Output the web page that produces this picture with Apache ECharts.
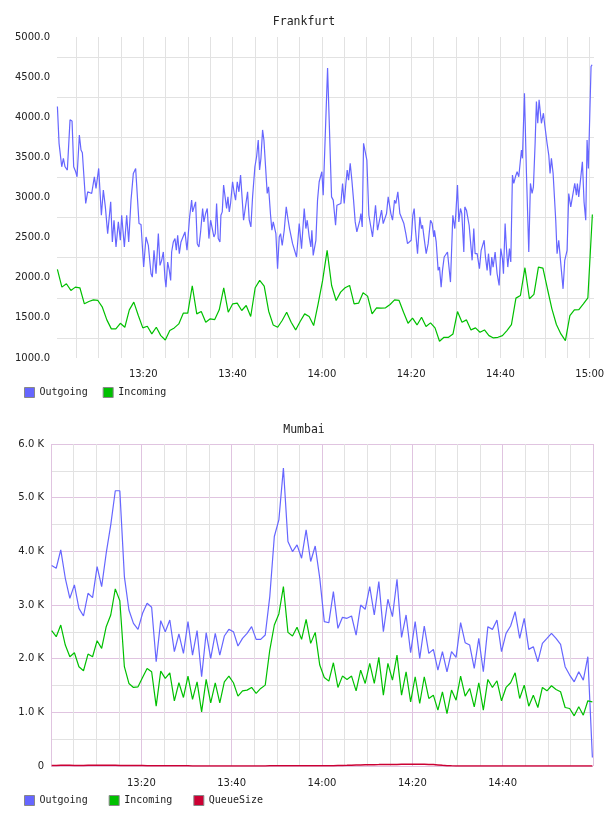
<!DOCTYPE html>
<html><head><meta charset="utf-8">
<script src="https://cdn.jsdelivr.net/npm/echarts@6/dist/echarts.min.js"></script>
<style>html,body{margin:0;padding:0;background:#fff}#c{width:608px;height:816px}</style>
</head><body><div id="c"></div>
<script>
// ---- x axis ticks (minutes after 13:00) ----
const frankTickMinutes = [5,10,15,20,25,30,35,40,45,50,55,60,65,70,75,80,85,90,95,100,105,110,115,120];
const frankLabelMinutes = [20,40,60,80,100,120];
const mumbaiLabelMinutes = [20,40,60,80,100];
const frankYTicks = [1000,1500,2000,2500,3000,3500,4000,4500,5000];

// ---- Frankfurt Outgoing: [minute after 13:00, value] ----
const frankfurtOutgoing = [
[0.76,4133],[1.13,3675],[1.73,3383],[2.1,3488],[2.47,3383],[2.99,3342],[3.22,3321],[3.59,3967],[4.04,3954],[4.41,3383],
[4.86,3321],[5.16,3258],[5.68,3779],[6.05,3592],[6.35,3558],[6.73,3558],[7.1,2925],[7.55,3071],[7.99,3050],[8.44,3050],
[9.04,3258],[9.41,3113],[9.71,3133],[10.01,3362],[10.61,2779],[11.05,3092],[11.5,2883],[12.02,2550],[12.7,2946],[13.07,2446],
[13.44,2717],[13.89,2383],[14.41,2696],[14.86,2467],[15.16,2779],[15.76,2383],[16.28,2779],[16.73,2446],[17.25,2967],[17.77,3300],
[18.29,3362],[18.52,3342],[19.04,2675],[19.49,2663],[20.08,2133],[20.61,2508],[21.13,2404],[21.35,2383],[21.73,2050],[22.02,2008],
[22.4,2342],[22.85,2050],[23.37,2550],[23.74,2154],[24.11,2217],[24.49,2321],[24.86,1988],[25.08,1883],[25.46,2196],[25.83,2092],
[26.13,1967],[26.35,2321],[26.73,2446],[27.1,2488],[27.4,2342],[27.7,2529],[28.07,2300],[28.44,2446],[28.82,2425],[29.34,2571],
[29.79,2342],[30.08,2321],[30.38,2758],[30.83,2967],
[31.05,2821],[31.42,2821],[31.72,2946],[32.09,2425],[32.46,2383],[32.84,2571],[33.06,2571],[33.29,2863],[33.58,2696],[33.96,2800],
[34.33,2863],[34.7,2488],[35.08,2717],[35.45,2717],[35.82,2508],[36.12,2550],[36.42,2925],[36.79,2488],[37.17,2446],[37.39,2779],
[37.69,2821],[37.99,3154],[38.36,3154],[38.66,2863],[38.96,3008],[39.26,2821],[39.55,2925],[40.0,3196],[40.38,3050],[40.67,2967],
[41.05,3196],[41.42,3071],[41.79,3279],[42.17,2967],[42.46,2717],[42.84,2717],[43.36,3071],[43.73,2717],[44.1,2633],[44.48,3008],
[45.0,3383],[45.38,3508],[45.75,3717],[46.05,3342],[46.35,3488],[46.72,3842],[47.02,3717],[47.39,3383],[47.76,3050],[48.06,3133],
[48.51,2779],[48.81,2592],[49.11,2696],[49.41,2696],[49.7,2550],[50.08,2113],[50.45,2508],[50.75,2550],[51.12,2404],[51.57,2592],
[52.02,2883],[52.39,2738],[52.76,2613],[53.06,2592],[53.44,2425],[53.81,2446],[54.33,2258],[54.93,2675],[55.45,2363],[56.05,2863],
[56.42,2613],[56.72,2717],[57.17,2508],[57.54,2383],[57.76,2592],[58.06,2279],[58.66,2467],[59.03,2967],[59.4,3196],[59.7,3196],
[60.0,3321],[60.3,3029],[60.6,3050],
[61.28,4612],[61.72,4612],[62.17,3008],[62.55,2967],[63.07,2654],[63.37,2904],[63.81,2904],[64.26,2925],[64.64,3175],[65.01,2925],
[65.38,3175],[65.68,3342],[65.98,3217],[66.35,3425],[66.72,3217],[67.1,2967],[67.47,2696],[67.84,2571],[68.14,2592],[68.52,2717],
[68.74,2800],[69.04,2633],[69.34,3675],[69.71,3696],[70.08,3467],[70.53,2779],[70.9,2779],[71.35,2508],[71.65,2508],[72.02,2904],
[72.47,2592],[72.84,2592],[73.37,2842],[73.74,2675],[74.11,2654],[74.49,2800],[74.86,3008],[75.08,3029],[75.46,2800],[75.83,2717],
[76.28,2967],[76.58,2925],[77.02,3071],[77.47,2800],[77.84,2779],[78.37,2675],[78.81,2550],[79.19,2425],[79.63,2446],[80.01,2467],
[80.38,2779],[80.68,2863],[80.98,2592],[81.43,2300],[81.95,2758],[82.32,2613],[82.55,2654],[82.92,2488],[83.37,2300],[83.81,2425],
[84.34,2717],[84.71,2675],[85.08,2508],[85.23,2592],[85.61,2446],[86.05,2092],[86.35,2133],[86.72,1883],[87.02,2092],[87.4,2258],
[87.77,2258],[88.14,2321],[88.44,2300],[88.81,1946],[89.04,1967],[89.34,2779],[89.78,2613],[90.01,2800],[90.38,3154],[90.68,2696],
[91.05,2863],
[91.35,2800],[91.8,2321],[92.02,2883],[92.39,2842],[92.99,2654],[93.66,2217],[94.03,2613],[94.33,2300],[94.78,2300],[95.3,2113],
[95.68,2342],[96.05,2321],[96.35,2467],[96.65,2258],[97.02,2092],[97.32,2300],[97.77,2029],[98.06,2258],[98.36,2133],[98.81,2321],
[99.26,2050],[99.71,1904],[100.08,2363],[100.45,2238],[100.68,2050],[101.05,2675],[101.35,2363],[101.65,2133],[102.02,2363],[102.32,2196],
[102.69,3279],[102.99,3175],[103.36,3258],[103.74,3321],[104.11,3258],[104.33,3279],[104.71,3592],[104.93,3488],[105.38,4300],[105.83,3300],
[106.35,2321],[106.72,3175],[107.09,3050],[107.39,3133],[107.77,3675],[108.06,4196],[108.36,3925],[108.66,4217],[109.18,3925],[109.63,4050],
[109.93,3904],[110.45,3675],[110.83,3529],[111.12,3300],[111.42,3488],[111.8,3300],[112.39,2717],[112.69,2300],[113.06,2467],[113.59,2133],
[114.03,1862],[114.41,2217],[114.93,2342],[115.3,3050],[115.75,2883],[116.05,2883],[116.65,3175],[117.02,3029],[117.24,3175],[117.54,3008],
[118.36,3446],[118.73,2946],[119.11,2717],[119.41,3717],[119.7,3362],[120.3,4633],[120.53,4654]
];

// ---- Frankfurt Incoming: one value per minute ----
const frankfurtInStart = 0.76;   // minutes after 13:00
const frankfurtInStep = 1.007;
const frankfurtIncoming = [
2104,1883,1925,1842,1883,1875,1675,1704,1725,1717,1633,1475,1363,1363,1433,1383,1600,1696,1529,1375,
1396,1300,1383,1279,1225,1342,1375,1425,1558,1558,1900,
1550,1579,1446,1488,1479,1600,1875,1571,1675,1683,1592,1654,1517,1875,1967,1896,1583,1412,1383,1467,
1571,1446,1350,1454,1550,1517,1404,1675,1967,2342,
1904,1717,1821,1875,1904,1675,1683,1813,1771,1550,1625,1621,1625,1667,1725,1717,1571,1433,1496,1412,
1508,1392,1438,1375,1208,1258,1258,1300,1579,1446,
1475,1350,1375,1321,1350,1279,1250,1258,1279,1342,1417,1746,1779,2125,1738,1792,2133,2121,1863,1613,
1417,1300,1217,1529,1600,1604,1675,1750,2788
];

// ---- Mumbai: one value per minute ----
const mumbaiStart = 0.15;
const mumbaiStep = 1.006;
const mumbaiOutgoing = [
3735,3685,4027,3498,3125,3374,2938,2795,3218,3138,
3716,3343,3965,4494,5129,5129,3530,2907,2658,2546,
2845,3032,2957,1943,2708,2503,2720,2130,2460,2098,
2690,2067,2522,1663,2484,2005,2472,2067,2422,2546,
2503,2235,2378,2472,2597,2360,2360,2441,3156,4276,
4587,5552,4183,3996,4121,3872,4400,3810,4100,3500,
2690,2670,3249,2565,2770,2752,2795,2440,3000,2920,
3343,2814,3436,2503,3107,2783,3480,2397,2814,2111,
2690,2005,2609,2098,2173,1787,2130,1756,2130,2024,
2671,2297,2254,1818,2378,1756,2596,2546,2721,2130,
2472,2609,2876,2378,2752,2173,2223,1943,2285,2378,
2472,2378,2266,1850,1694,1569,1756,1600,2036,157
];
const mumbaiIncoming = [
2521,2409,2627,2254,2036,2111,1850,1775,2086,2036,
2335,2192,2596,2814,3300,3080,1850,1538,1464,1476,
1650,1818,1756,1115,1769,1632,1737,1215,1551,1277,
1675,1240,1569,1009,1613,1177,1551,1177,1569,1675,
1551,1302,1401,1414,1464,1352,1445,1507,2161,2627,
2833,3343,2490,2422,2584,2360,2733,2285,2490,1881,
1650,1582,1924,1464,1675,1613,1675,1401,1787,1538,
1912,1538,2024,1320,1912,1600,2067,1320,1756,1196,
1663,1165,1663,1258,1320,1040,1383,978,1414,1227,
1675,1302,1445,1103,1551,1040,1613,1464,1588,1215,
1464,1551,1737,1258,1507,1115,1320,1090,1464,1401,
1495,1426,1383,1090,1071,935,1103,947,1215,1196
];
const mumbaiQueueSize = [
8,10,12,12,12,10,10,10,12,12,
12,14,14,12,12,10,10,10,10,8,
8,6,6,5,5,4,4,3,3,3,
3,2,2,2,2,2,2,2,2,2,
2,2,2,2,2,2,2,2,3,3,
3,3,3,3,3,3,3,4,4,4,
4,5,6,8,10,12,15,18,20,22,
24,25,26,28,28,30,30,32,32,34,
34,34,32,30,26,20,12,6,3,2,
2,2,2,2,2,2,2,2,2,2,
2,2,2,2,2,2,2,2,2,2,
2,2,2,2,2,2,2,2,2,2
];

function perMinute(start, step, vals) { return vals.map((v, i) => [start + i * step, v]); }
function hhmm(m) {
  const t = Math.round(m);
  const h = 13 + Math.floor(t / 60), mm = t % 60;
  return h + ':' + (mm < 10 ? '0' : '') + mm;
}

const C_OUT = '#6666ff', C_IN = '#00c000', C_Q = '#cc0033';
const GRAY = '#e2e2e2', PINK = '#e0c4e0';
const labelFont = { fontFamily: 'DejaVu Sans', fontSize: 10, color: '#222' };
const monoFont = 'DejaVu Sans Mono';

const chart = echarts.init(document.getElementById('c'), null, { renderer: 'canvas' });
chart.setOption({
  animation: false,
  backgroundColor: '#fff',
  title: [
    { text: 'Frankfurt', left: 'center', top: 11, textStyle: { fontFamily: monoFont, fontSize: 11.5, fontWeight: 'normal', color: '#222' } },
    { text: 'Mumbai', left: 'center', top: 419, textStyle: { fontFamily: monoFont, fontSize: 11.5, fontWeight: 'normal', color: '#222' } }
  ],
  legend: [
    { data: ['Outgoing', 'Incoming'], left: 24, top: 387, padding: 0, icon: 'rect', itemWidth: 10, itemHeight: 10, itemGap: 15,
      itemStyle: { borderColor: '#888', borderWidth: 1 },
      textStyle: { fontFamily: monoFont, fontSize: 10, color: '#222' } },
    { data: ['Outgoing', 'Incoming', 'QueueSize'], left: 24, top: 795, padding: 0, icon: 'rect', itemWidth: 10, itemHeight: 10, itemGap: 21,
      itemStyle: { borderColor: '#888', borderWidth: 1 },
      textStyle: { fontFamily: monoFont, fontSize: 10, color: '#222' } }
  ],
  grid: [
    { left: 57, right: 14, top: 37, height: 321 },
    { left: 51, right: 15, top: 444, height: 322 }
  ],
  xAxis: [
    { type: 'value', gridIndex: 0, min: 0.67, max: 120.96,
      axisLine: { show: false },
      axisTick: { show: false, customValues: frankTickMinutes },
      axisLabel: Object.assign({ customValues: frankLabelMinutes, formatter: hhmm, margin: 11 }, labelFont),
      splitLine: { show: true, lineStyle: { color: GRAY, width: 1 } } },
    { type: 'value', gridIndex: 1, min: 0, max: 120, interval: 5,
      axisLine: { show: false },
      axisTick: { show: false },
      axisLabel: Object.assign({ margin: 12, showMinLabel: false, showMaxLabel: false,
        formatter: v => (mumbaiLabelMinutes.indexOf(v) >= 0 ? hhmm(v) : '') }, labelFont),
      splitLine: { show: true, lineStyle: { color: [PINK, GRAY, GRAY, GRAY], width: 1 } } }
  ],
  yAxis: [
    { type: 'value', gridIndex: 0, min: frankYTicks[0], max: frankYTicks[frankYTicks.length - 1], interval: 500,
      axisLine: { show: false }, axisTick: { show: false },
      axisLabel: Object.assign({ formatter: v => v.toFixed(1), margin: 7 }, labelFont),
      splitLine: { show: false },
      minorTick: { show: false, splitNumber: 2 },
      minorSplitLine: { show: true, lineStyle: { color: GRAY, width: 1 } } },
    { type: 'value', gridIndex: 1, min: 0, max: 6000, interval: 1000,
      axisLine: { show: false }, axisTick: { show: false },
      axisLabel: Object.assign({ formatter: v => (v === 0 ? '0' : (v / 1000).toFixed(1) + ' K'), margin: 7 }, labelFont),
      splitLine: { show: true, lineStyle: { color: PINK, width: 1 } },
      minorTick: { show: false, splitNumber: 2 },
      minorSplitLine: { show: true, lineStyle: { color: GRAY, width: 1 } } }
  ],
  series: [
    { name: 'Outgoing', type: 'line', xAxisIndex: 0, yAxisIndex: 0, data: frankfurtOutgoing, showSymbol: false,
      color: C_OUT, itemStyle: { color: C_OUT }, lineStyle: { color: C_OUT, width: 1.2 } },
    { name: 'Incoming', type: 'line', xAxisIndex: 0, yAxisIndex: 0, data: perMinute(frankfurtInStart, frankfurtInStep, frankfurtIncoming), showSymbol: false,
      color: C_IN, itemStyle: { color: C_IN }, lineStyle: { color: C_IN, width: 1.2 } },
    { name: 'Outgoing', type: 'line', xAxisIndex: 1, yAxisIndex: 1, data: perMinute(mumbaiStart, mumbaiStep, mumbaiOutgoing), showSymbol: false,
      color: C_OUT, itemStyle: { color: C_OUT }, lineStyle: { color: C_OUT, width: 1.2 } },
    { name: 'Incoming', type: 'line', xAxisIndex: 1, yAxisIndex: 1, data: perMinute(mumbaiStart, mumbaiStep, mumbaiIncoming), showSymbol: false,
      color: C_IN, itemStyle: { color: C_IN }, lineStyle: { color: C_IN, width: 1.2 } },
    { name: 'QueueSize', type: 'line', xAxisIndex: 1, yAxisIndex: 1, data: perMinute(mumbaiStart, mumbaiStep, mumbaiQueueSize), showSymbol: false,
      color: C_Q, itemStyle: { color: C_Q }, lineStyle: { color: C_Q, width: 1.5 } }
  ]
});
</script></body></html>
